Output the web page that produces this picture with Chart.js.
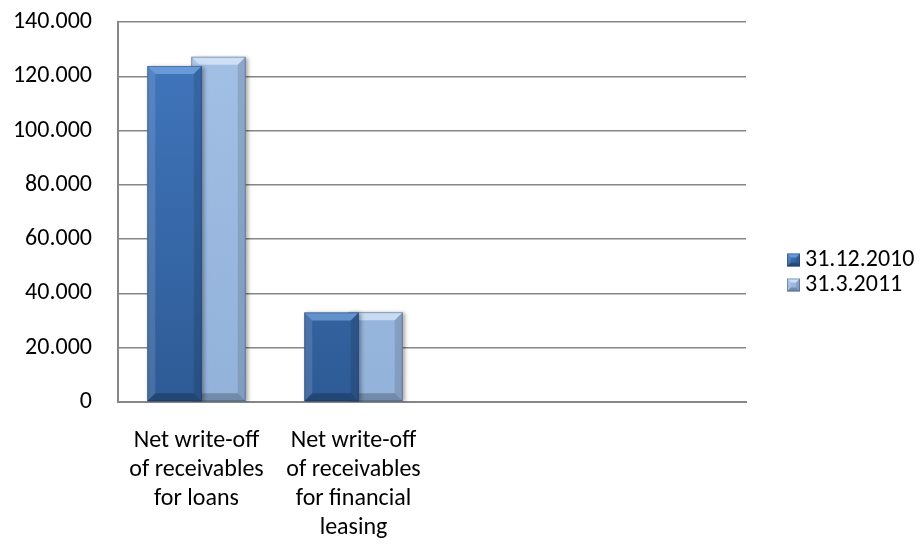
<!DOCTYPE html>
<html>
<head>
<meta charset="utf-8">
<title>Net write-off of receivables</title>
<script src="https://cdn.jsdelivr.net/npm/chart.js@4/dist/chart.umd.min.js"></script>
<style>
  html, body { margin: 0; padding: 0; background: #fff; }
  #wrap { width: 923px; height: 544px; }
</style>
</head>
<body>
<div id="wrap"><canvas id="writeOffChart"></canvas></div>
<script>
// categories (last two slots are empty, like the original sheet)
const categories = [
  ['Net write-off', 'of receivables', 'for loans'],
  ['Net write-off', 'of receivables', 'for financial', 'leasing'],
  '',
  ''
];
const seriesNames = ['31.12.2010', '31.3.2011'];
const dec2010 = [123800, 33000, null, null];
const mar2011 = [127200, 33100, null, null];

const yMin = 0;
const yMax = 140000;
const yStep = 20000;

const FONT = 'Carlito, Calibri, Lato, sans-serif';
const GRID = '#868686';

// face colours, top -> bottom
const barColors = [
  { top: '#4178c0', bottom: '#2e5b95', light: 'rgba(140,185,240,0.55)' },
  { top: '#a3c0e5', bottom: '#93b2da', light: 'rgba(235,245,255,0.6)' }
];

function faceGradient(ctx, idx) {
  const chart = ctx.chart;
  const area = chart.chartArea;
  if (!area) return barColors[idx].top;
  const g = chart.ctx.createLinearGradient(0, area.top, 0, area.bottom);
  g.addColorStop(0, barColors[idx].top);
  g.addColorStop(1, barColors[idx].bottom);
  return g;
}

function fmt(v) {
  return String(v).replace(/\B(?=(\d{3})+(?!\d))/g, '.');
}

// draws a bevelled box: light top, darker sides and bottom
function bevel(c, left, top, right, bottom, b, lightCol) {
  const w = right - left, h = bottom - top;
  b = Math.min(b, w / 2, h / 2);
  c.save();
  // top
  c.fillStyle = lightCol;
  c.beginPath();
  c.moveTo(left, top); c.lineTo(right, top);
  c.lineTo(right - b, top + b); c.lineTo(left + b, top + b);
  c.closePath(); c.fill();
  // left
  c.fillStyle = 'rgba(255,255,255,0.12)';
  c.beginPath();
  c.moveTo(left, top); c.lineTo(left + b, top + b);
  c.lineTo(left + b, bottom - b); c.lineTo(left, bottom);
  c.closePath(); c.fill();
  // right
  c.fillStyle = 'rgba(0,0,0,0.12)';
  c.beginPath();
  c.moveTo(right, top); c.lineTo(right, bottom);
  c.lineTo(right - b, bottom - b); c.lineTo(right - b, top + b);
  c.closePath(); c.fill();
  // bottom
  c.fillStyle = 'rgba(0,0,0,0.22)';
  c.beginPath();
  c.moveTo(left, bottom); c.lineTo(left + b, bottom - b);
  c.lineTo(right - b, bottom - b); c.lineTo(right, bottom);
  c.closePath(); c.fill();
  // outline
  c.strokeStyle = 'rgba(20,40,80,0.35)';
  c.lineWidth = 1;
  c.strokeRect(left + 0.5, top + 0.5, w - 1, h - 1);
  c.restore();
}

const bevelPlugin = {
  id: 'bevel',
  beforeDatasetDraw(chart) {
    const c = chart.ctx;
    c.save();
    c.shadowColor = 'rgba(0,0,0,0.35)';
    c.shadowBlur = 4;
    c.shadowOffsetX = 2;
    c.shadowOffsetY = 1;
  },
  afterDatasetDraw(chart, args) {
    const c = chart.ctx;
    c.restore();
    const values = chart.data.datasets[args.index].data;
    args.meta.data.forEach((bar, i) => {
      if (values[i] == null) return;
      const p = bar.getProps(['x', 'y', 'base', 'width'], true);
      bevel(c, p.x - p.width / 2, p.y, p.x + p.width / 2, p.base, 8, barColors[args.index].light);
    });
  }
};

// legend on the right, drawn from the dataset labels and colours
const sideLegend = {
  id: 'sideLegend',
  afterDraw(chart) {
    const c = chart.ctx;
    const area = chart.chartArea;
    const x = area.right + 41;
    const y0 = 260;
    const gap = 25;
    const box = 13;
    chart.data.datasets.forEach((ds, i) => {
      const y = y0 + i * gap;
      const g = c.createLinearGradient(0, y - box / 2, 0, y + box / 2);
      g.addColorStop(0, barColors[i].top);
      g.addColorStop(1, barColors[i].bottom);
      c.fillStyle = g;
      c.fillRect(x, y - box / 2, box, box);
      bevel(c, x, y - box / 2, x + box, y + box / 2, 4, barColors[i].light);
      c.fillStyle = '#000';
      c.font = '24px ' + FONT;
      c.textAlign = 'left';
      c.textBaseline = 'middle';
      c.fillText(ds.label, x + box + 5, y);
    });
  }
};

new Chart(document.getElementById('writeOffChart'), {
  type: 'bar',
  data: {
    labels: categories,
    datasets: [
      { label: seriesNames[0], data: dec2010, backgroundColor: ctx => faceGradient(ctx, 0) },
      { label: seriesNames[1], data: mar2011, backgroundColor: ctx => faceGradient(ctx, 1) }
    ]
  },
  options: {
    responsive: true,
    maintainAspectRatio: false,
    animation: false,
    categoryPercentage: 0.56,
    barPercentage: 1.24,
    layout: { autoPadding: false, padding: { top: 22, right: 177, left: 0, bottom: 0 } },
    plugins: {
      legend: { display: false },
      tooltip: { enabled: false }
    },
    scales: {
      x: {
        grid: { display: false, drawTicks: false },
        border: { display: true, color: GRID, width: 2 },
        ticks: {
          color: '#000',
          font: { family: FONT, size: 24, lineHeight: 1.22 },
          padding: 24,
          maxRotation: 0,
          autoSkip: false
        },
        afterFit(scale) {
          scale.height = 142;
          scale.paddingLeft = 0;
          scale.paddingRight = 0;
        }
      },
      y: {
        min: yMin,
        max: yMax,
        grid: { color: GRID, lineWidth: 1.5, drawTicks: false },
        border: { display: true, color: GRID, width: 2 },
        ticks: {
          stepSize: yStep,
          color: '#000',
          padding: 26,
          font: { family: FONT, size: 24 },
          callback: v => fmt(v)
        },
        afterFit(scale) {
          scale.width = 118;
          scale.paddingTop = 0;
          scale.paddingBottom = 0;
        }
      }
    }
  },
  plugins: [bevelPlugin, sideLegend]
});
</script>
</body>
</html>
